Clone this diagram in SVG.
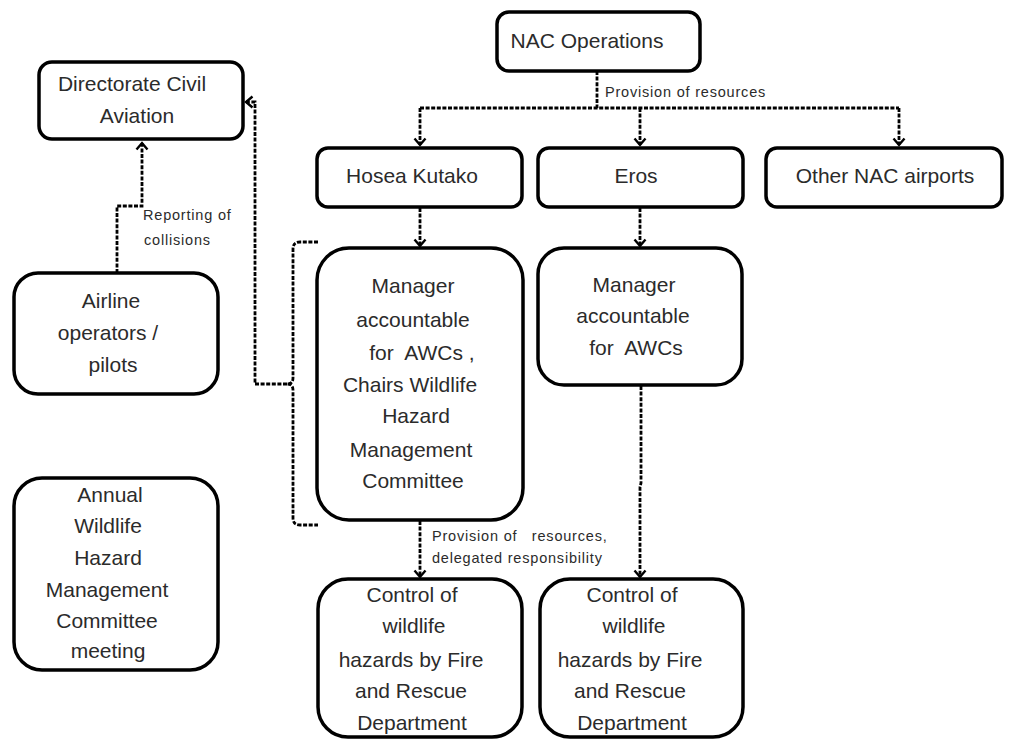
<svg xmlns="http://www.w3.org/2000/svg" width="1020" height="739" viewBox="0 0 1020 739">
  <style>
    .box { fill: #ffffff; stroke: #000000; stroke-width: 3.5; }
    .t { font-family: "Liberation Sans", Arial, sans-serif; font-size: 21px; fill: #2b2b2b; text-anchor: middle; white-space: pre; }
    .lbl { font-family: "Liberation Sans", Arial, sans-serif; font-size: 14.5px; letter-spacing: 0.8px; fill: #2b2b2b; white-space: pre; }
    .dash { fill: none; stroke: #000000; stroke-width: 2.8; stroke-dasharray: 4 1.6; }
  </style>
  <defs>
    <marker id="arrow" markerUnits="userSpaceOnUse" markerWidth="14" markerHeight="14" refX="8" refY="7" orient="auto">
      <path d="M1.5,1.5 L8,7 L1.5,12.5" fill="none" stroke="#000000" stroke-width="2.4"/>
    </marker>
  </defs>
  <rect width="1020" height="739" fill="#ffffff"/>

  <!-- connectors -->
  <g id="connectors">
    <path class="dash" d="M597,71 V108"/>
    <path class="dash" d="M420,108 H899"/>
    <path class="dash" d="M420,108 V145" marker-end="url(#arrow)"/>
    <path class="dash" d="M640,108 V145" marker-end="url(#arrow)"/>
    <path class="dash" d="M899,108 V145" marker-end="url(#arrow)"/>
    <path class="dash" d="M420,208 V246" marker-end="url(#arrow)"/>
    <path class="dash" d="M640,208 V246" marker-end="url(#arrow)"/>
    <path class="dash" d="M420,521 V577" marker-end="url(#arrow)"/>
    <path class="dash" d="M641,386 V483 L640,487 V577" marker-end="url(#arrow)"/>
    <path class="dash" d="M117,273 V206 H142 V143" marker-end="url(#arrow)"/>
    <!-- brace around the committee chair box -->
    <path class="dash" d="M318,242 H300 Q293,242 293,249 V378 Q293,384 287,384 Q293,384 293,390 V518 Q293,525 300,525 H318"/>
    <path class="dash" d="M287,384 H255 V102 H246" marker-end="url(#arrow)"/>
  </g>

  <g id="nac-operations">
    <rect class="box" x="497" y="12" width="203" height="59" rx="12"/>
    <text class="t" x="587" y="48">NAC Operations</text>
  </g>
  <text class="lbl" x="605" y="97">Provision of resources</text>

  <g id="directorate-civil-aviation">
    <rect class="box" x="39" y="62" width="204" height="77" rx="13"/>
    <text class="t" x="132" y="91">Directorate Civil</text>
    <text class="t" x="137" y="123">Aviation</text>
  </g>

  <g id="hosea-kutako">
    <rect class="box" x="317" y="148" width="205" height="59" rx="11"/>
    <text class="t" x="412" y="183">Hosea Kutako</text>
  </g>

  <g id="eros">
    <rect class="box" x="538" y="148" width="205" height="59" rx="11"/>
    <text class="t" x="636" y="183">Eros</text>
  </g>

  <g id="other-nac-airports">
    <rect class="box" x="766" y="148" width="236" height="59" rx="11"/>
    <text class="t" x="885" y="183">Other NAC airports</text>
  </g>

  <text class="lbl" x="143" y="220">Reporting of</text>
  <text class="lbl" x="144" y="245">collisions</text>

  <g id="airline-operators">
    <rect class="box" x="14" y="273" width="204" height="121" rx="24"/>
    <text class="t" x="111" y="308">Airline</text>
    <text class="t" x="108" y="340">operators /</text>
    <text class="t" x="113" y="372">pilots</text>
  </g>

  <g id="manager-hosea-kutako">
    <rect class="box" x="317" y="248" width="206" height="272" rx="32"/>
    <text class="t" x="413" y="293">Manager</text>
    <text class="t" x="413" y="327">accountable</text>
    <text class="t" x="419" y="360"> for  AWCs ,</text>
    <text class="t" x="410" y="392">Chairs Wildlife</text>
    <text class="t" x="416" y="423">Hazard</text>
    <text class="t" x="411" y="457">Management</text>
    <text class="t" x="413" y="488">Committee</text>
  </g>

  <g id="manager-eros">
    <rect class="box" x="538" y="248" width="204" height="137" rx="26"/>
    <text class="t" x="634" y="292">Manager</text>
    <text class="t" x="633" y="323">accountable</text>
    <text class="t" x="636" y="355">for  AWCs</text>
  </g>

  <text class="lbl" x="432" y="541">Provision of   resources,</text>
  <text class="lbl" x="432" y="563">delegated responsibility</text>

  <g id="annual-committee-meeting">
    <rect class="box" x="14" y="478" width="204" height="192" rx="28"/>
    <text class="t" x="110" y="502">Annual</text>
    <text class="t" x="108" y="533">Wildlife</text>
    <text class="t" x="108" y="565">Hazard</text>
    <text class="t" x="107" y="597">Management</text>
    <text class="t" x="107" y="628">Committee</text>
    <text class="t" x="108" y="658">meeting</text>
  </g>

  <g id="control-hosea-kutako">
    <rect class="box" x="318" y="579" width="204" height="158" rx="30"/>
    <text class="t" x="412" y="602">Control of</text>
    <text class="t" x="414" y="633">wildlife</text>
    <text class="t" x="411" y="667">hazards by Fire</text>
    <text class="t" x="411" y="698">and Rescue</text>
    <text class="t" x="412" y="730">Department</text>
  </g>

  <g id="control-eros">
    <rect class="box" x="540" y="579" width="203" height="158" rx="30"/>
    <text class="t" x="632" y="602">Control of</text>
    <text class="t" x="634" y="633">wildlife</text>
    <text class="t" x="630" y="667">hazards by Fire</text>
    <text class="t" x="630" y="698">and Rescue</text>
    <text class="t" x="632" y="730">Department</text>
  </g>
</svg>
